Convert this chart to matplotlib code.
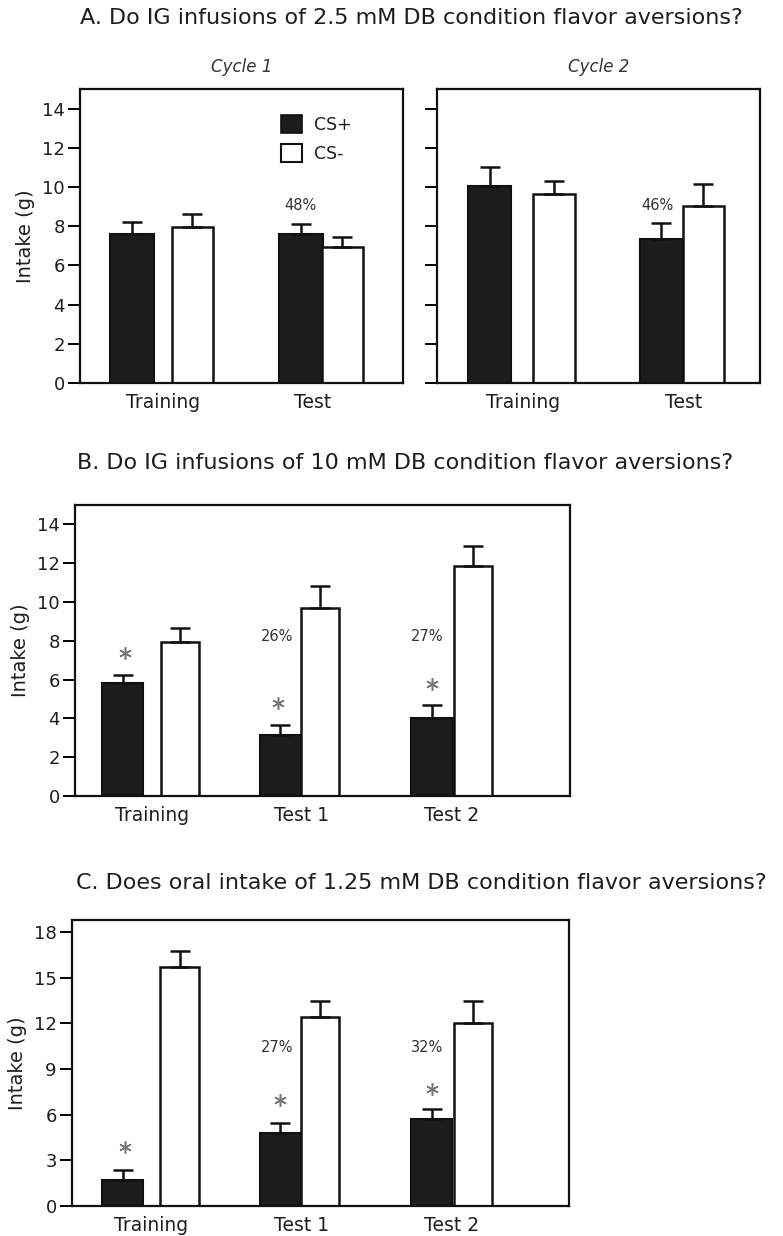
import matplotlib
matplotlib.use("Agg")
import matplotlib.pyplot as plt
from matplotlib.patches import Patch

plt.rcParams['font.family'] = ['DejaVu Sans']

# --- data (g intake, mean and SEM) ---
a1_groups = ["Training", "Test"]
a1_csp = [7.6, 7.6]
a1_csp_err = [0.6, 0.5]
a1_csm = [7.95, 6.95]
a1_csm_err = [0.65, 0.5]
a1_pct = ["", "48%"]

a2_groups = ["Training", "Test"]
a2_csp = [10.05, 7.35]
a2_csp_err = [0.95, 0.8]
a2_csm = [9.65, 9.05]
a2_csm_err = [0.65, 1.1]
a2_pct = ["", "46%"]

b_groups = ["Training", "Test 1", "Test 2"]
b_csp = [5.85, 3.15, 4.0]
b_csp_err = [0.4, 0.5, 0.7]
b_csm = [7.95, 9.7, 11.85]
b_csm_err = [0.7, 1.1, 1.05]
b_pct = ["", "26%", "27%"]

c_groups = ["Training", "Test 1", "Test 2"]
c_csp = [1.7, 4.8, 5.7]
c_csp_err = [0.65, 0.65, 0.7]
c_csm = [15.7, 12.4, 12.0]
c_csm_err = [1.05, 1.05, 1.45]
c_pct = ["", "27%", "32%"]

W, H = 783, 1236
fig = plt.figure(figsize=(W / 100, H / 100), dpi=100)
txt = '#1e1e1e'


def px_axes(x0, y0, x1, y1):
    return fig.add_axes([x0 / W, 1 - y1 / H, (x1 - x0) / W, (y1 - y0) / H])


def style(ax, ymax, yticks, show_labels=True):
    ax.set_xlim(0, 1)
    ax.set_ylim(0, ymax)
    ax.set_yticks(yticks)
    for s in ax.spines.values():
        s.set_linewidth(1.6)
        s.set_color('#111')
    ax.tick_params(axis='y', direction='out', length=9, width=1.4, labelsize=13,
                   labelcolor=txt, pad=2, labelleft=show_labels)
    ax.tick_params(axis='x', length=0, labelsize=13.5, labelcolor=txt, pad=7)


def draw_bars(ax, csp, csp_err, csm, csm_err, xp, xm, wp, wm):
    ekw = dict(elinewidth=1.8, capthick=1.8, ecolor='#111')
    ax.bar(xp, csp, width=wp, color='#1c1c1c', edgecolor='#111', linewidth=1.5,
           yerr=[[0] * len(csp), csp_err], capsize=7, error_kw=ekw, zorder=2)
    ax.bar(xm, csm, width=wm, color='white', edgecolor='#111', linewidth=1.8,
           yerr=[[0] * len(csm), csm_err], capsize=7, error_kw=ekw, zorder=2)


def annotate(ax, xs, ys, labels):
    for x, y, s in zip(xs, ys, labels):
        if s:
            ax.text(x, y, s, ha='center', va='center', fontsize=10.5, color='#333')


def stars(ax, xs, ys):
    ax.plot(xs, ys, linestyle='none', marker=(6, 2, 0), markersize=9,
            markeredgewidth=1.1, color='#777', zorder=3)


def ylabel(ax):
    ax.set_ylabel("Intake (g)", fontsize=14, color=txt, labelpad=5)


# ---------- Panel A ----------
fig.text(80 / W, 1 - 18 / H, "A. Do IG infusions of 2.5 mM DB condition flavor aversions?",
         ha='left', va='center', fontsize=16, color=txt)

axA1 = px_axes(80, 89, 403, 383)
draw_bars(axA1, a1_csp, a1_csp_err, a1_csm, a1_csm_err,
          [0.161, 0.684], [0.348, 0.812], 0.136, 0.128)
style(axA1, 15, range(0, 15, 2))
axA1.set_xticks([0.257, 0.721])
axA1.set_xticklabels(a1_groups)
ylabel(axA1)
axA1.set_title("Cycle 1", fontsize=12, style='italic', color='#333', pad=12)
annotate(axA1, [0.681, 0.681], [0, 9.05], a1_pct)
axA1.legend(handles=[Patch(facecolor='#1c1c1c', edgecolor='#111', linewidth=1.2),
                     Patch(facecolor='white', edgecolor='#111', linewidth=1.5)],
            labels=["CS+", "CS-"], loc='upper left', bbox_to_anchor=(0.575, 0.965),
            frameon=False, fontsize=12.5, handlelength=1.2, handleheight=1.2,
            handletextpad=0.7, labelspacing=0.6, labelcolor=txt)

axA2 = px_axes(437, 89, 760, 383)
draw_bars(axA2, a2_csp, a2_csp_err, a2_csm, a2_csm_err,
          [0.163, 0.695], [0.362, 0.825], 0.133, 0.128)
style(axA2, 15, range(0, 15, 2), show_labels=False)
axA2.set_xticks([0.266, 0.762])
axA2.set_xticklabels(a2_groups)
axA2.set_title("Cycle 2", fontsize=12, style='italic', color='#333', pad=12)
annotate(axA2, [0.681, 0.681], [0, 9.05], a2_pct)

# ---------- Panel B ----------
fig.text(77 / W, 1 - 463 / H, "B. Do IG infusions of 10 mM DB condition flavor aversions?",
         ha='left', va='center', fontsize=16, color=txt)
axB = px_axes(75, 505, 570, 796)
draw_bars(axB, b_csp, b_csp_err, b_csm, b_csm_err,
          [0.096, 0.415, 0.721], [0.212, 0.495, 0.804], 0.084, 0.078)
style(axB, 15, range(0, 15, 2))
axB.set_xticks([0.156, 0.458, 0.761])
axB.set_xticklabels(b_groups)
ylabel(axB)
annotate(axB, [0.096, 0.408, 0.711], [0, 8.2, 8.2], b_pct)
stars(axB, [0.101, 0.410, 0.721], [7.35, 4.8, 5.76])

# ---------- Panel C ----------
fig.text(76 / W, 1 - 883 / H, "C. Does oral intake of 1.25 mM DB condition flavor aversions?",
         ha='left', va='center', fontsize=16, color=txt)
axC = px_axes(72, 920, 569, 1206)
draw_bars(axC, c_csp, c_csp_err, c_csm, c_csm_err,
          [0.102, 0.419, 0.724], [0.217, 0.499, 0.807], 0.083, 0.078)
style(axC, 18.8, range(0, 19, 3))
axC.set_xticks([0.16, 0.462, 0.764])
axC.set_xticklabels(c_groups)
ylabel(axC)
annotate(axC, [0.1, 0.412, 0.714], [0, 10.4, 10.4], c_pct)
stars(axC, [0.107, 0.419, 0.724], [3.9, 6.96, 7.7])

fig.savefig("out.png", dpi=100)
